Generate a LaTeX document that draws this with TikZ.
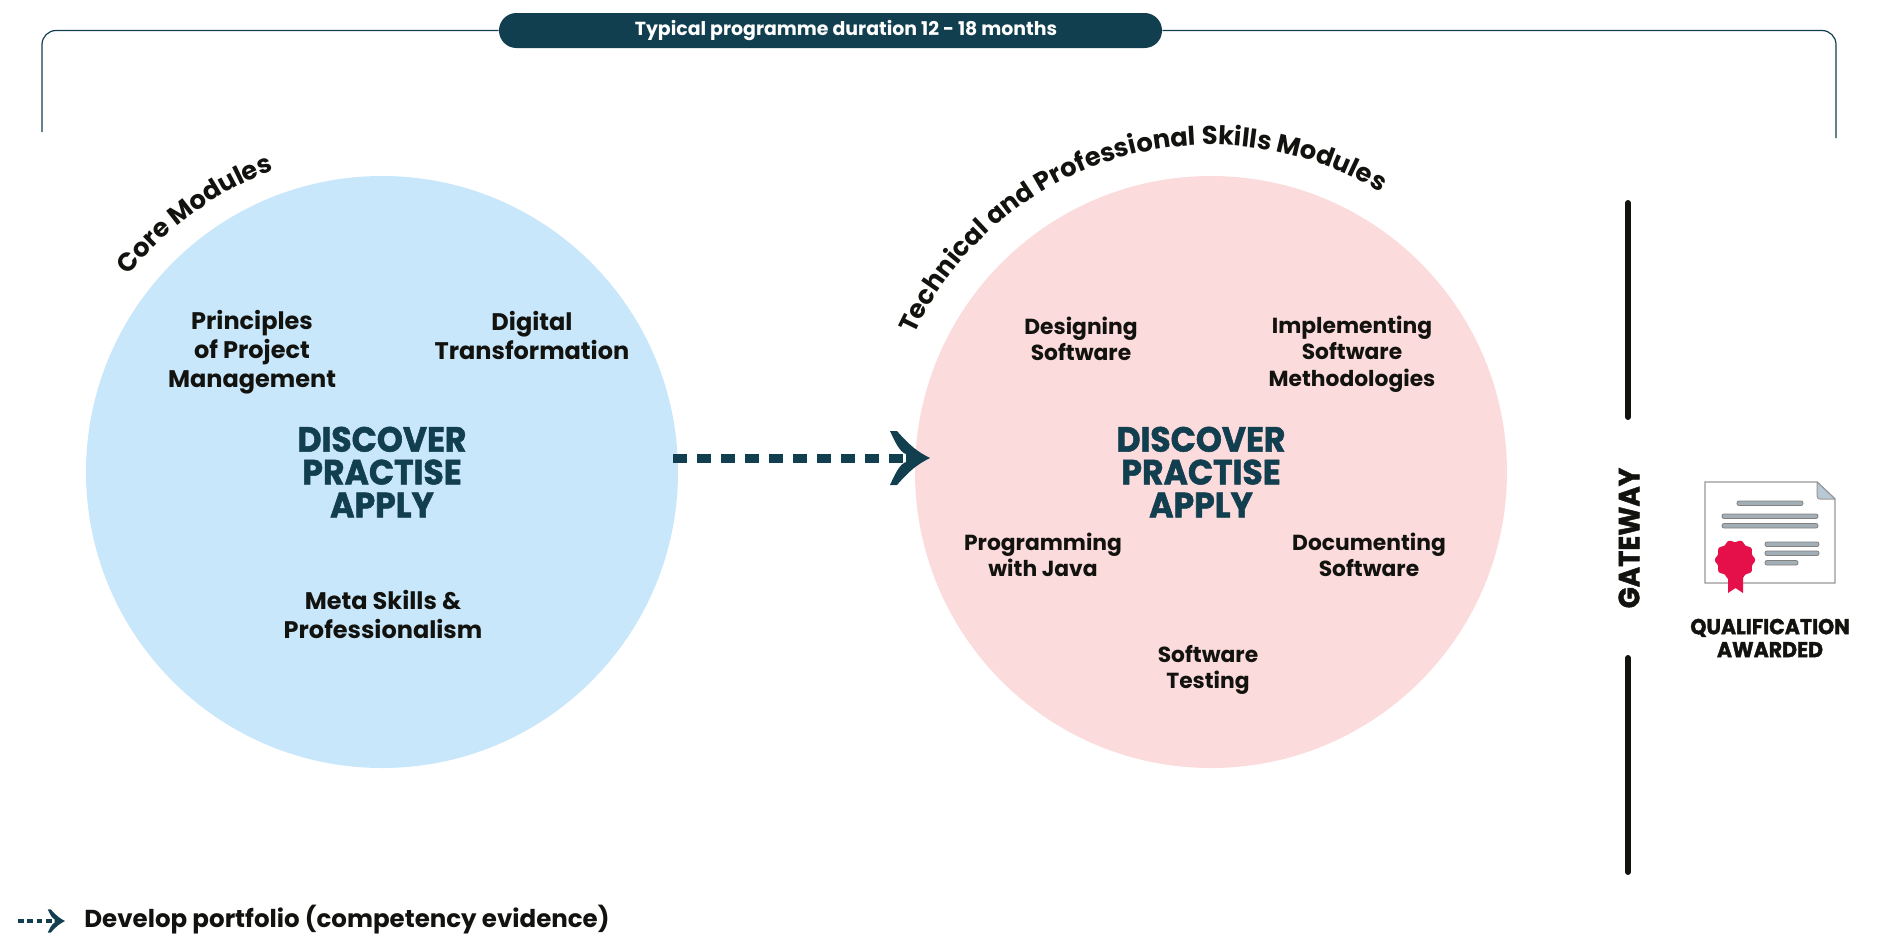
\documentclass[tikz,border=0pt]{standalone}
\usepackage{fontspec}
\setmainfont{Poppins}
\newfontfamily\mottofont{Poppins}[BoldFeatures={FakeBold=1.5,FakeStretch=0.945}]
\usetikzlibrary{positioning}
\usetikzlibrary{decorations.text}
\definecolor{tealdark}{HTML}{123F4F}
\definecolor{corefill}{HTML}{C9E7FA}
\definecolor{techfill}{HTML}{FBDBDB}
\definecolor{inkblack}{HTML}{12120F}
\definecolor{papergrey}{HTML}{9A9696}
\definecolor{bargrey}{HTML}{A3AFB7}
\definecolor{foldblue}{HTML}{B8C9D6}
\definecolor{sealred}{HTML}{E5104A}
\tikzset{modulecircle/.style={circle,draw=none,inner sep=0pt,minimum size=296pt}}
\tikzset{coremodule/.style={align=center,text=inkblack,inner sep=0pt,
font=\bfseries\fontsize{12}{14.5}\selectfont}}
\tikzset{techmodule/.style={align=center,text=inkblack,inner sep=0pt,
font=\bfseries\fontsize{10.9}{13.2}\selectfont}}
\tikzset{motto/.style={align=center,text=tealdark,inner sep=0pt,
font=\mottofont\bfseries\fontsize{17.5}{16.4}\selectfont}}
\tikzset{bracketline/.style={draw=tealdark,line width=0.6pt,rounded corners=7pt}}
\tikzset{gatewaybar/.style={draw=inkblack,line width=3pt,line cap=round}}
\tikzset{certbar/.style={draw=papergrey!85!black,fill=bargrey,line width=0.4pt,rounded corners=1pt}}
\tikzset{portfoliolink/.style={draw=tealdark,line width=4.5pt,dash pattern=on 7.2pt off 4.8pt}}
\tikzset{curvelabel/.style={decorate,decoration={text along path,text align=center,
text={|\bfseries\fontsize{12.9}{15}\selectfont\color{inkblack}|#1}}}}
\tikzset{barbhead/.pic={
\fill[tealdark] (-20pt,13.5pt) -- (-16.5pt,13.5pt) .. controls (-10pt,6pt) and (-6pt,3pt) .. (0,0)
.. controls (-6pt,-3pt) and (-10pt,-6pt) .. (-16.5pt,-13.5pt) -- (-20pt,-13.5pt)
.. controls (-17pt,-7pt) and (-15pt,-3pt) .. (-12pt,-2pt) -- (-12pt,2pt) .. controls (-15pt,3pt) and (-17pt,7pt) .. (-20pt,13.5pt) -- cycle;}}
\begin{document}
\begin{tikzpicture}[x=0.5pt,y=-0.5pt]
\useasboundingbox (0,0) rectangle (1881,933);

% circles
\node[modulecircle,fill=corefill] (core) at (382,472) {};
\node[modulecircle,fill=techfill] (tech) at (1211,472) {};

% duration bracket
\node[fill=tealdark,rounded corners=8.7pt,minimum width=331.5pt,minimum height=17.5pt,inner sep=0pt] (duration) at (830.5,30.5) {};
\node[text=white,inner sep=0pt,font=\bfseries\fontsize{9.45}{11}\selectfont] (durationtext) at (846,31) {Typical programme duration 12 - 18 months};
\coordinate (bracketL) at (42,132);
\coordinate (bracketR) at (1836,138);
\draw[bracketline] (bracketL) |- (duration.west);
\draw[bracketline] (bracketR) |- (duration.east);

% curved titles
\path[curvelabel={Core Modules}] ([shift={(171:160pt)}]core.center) arc[start angle=171,end angle=81,radius=160pt];
\path[curvelabel={Technical and Professional Skills Modules}] ([shift={(170.5:163.5pt)}]tech.center) arc[start angle=170.5,end angle=43.5,radius=163.5pt];

% core modules
\node[coremodule] (principles) at (252,352) {Principles\\of Project\\Management};
\node[coremodule] (digital) at (532,335) {Digital\\Transformation};
\node[coremodule] (meta) at (383,614) {Meta Skills \&\\Professionalism};
\node[motto] (coremotto) at (382,472) {DISCOVER\\PRACTISE\\APPLY};

% technical modules
\node[techmodule] (designing) at (1081,339) {Designing\\Software};
\node[techmodule] (implementing) at (1352,354) {Implementing\\Software\\Methodologies};
\node[motto] (techmotto) at (1201,472) {DISCOVER\\PRACTISE\\APPLY};
\node[techmodule] (java) at (1043,555) {Programming\\with Java};
\node[techmodule] (documenting) at (1369,555) {Documenting\\Software};
\node[techmodule] (testing) at (1208,670) {Software\\Testing};

% portfolio arrow
\coordinate (linkstart) at (673,458);
\coordinate (linkend) at (908,458);
\draw[portfoliolink] (linkstart) -- (linkend);
\pic at (930,458) {barbhead};

% gateway
\coordinate (gateA) at (1628,203);
\coordinate (gateB) at (1628,417);
\coordinate (gateC) at (1628,658);
\coordinate (gateD) at (1628,872);
\draw[gatewaybar] (gateA) -- (gateB);
\draw[gatewaybar] (gateC) -- (gateD);
\node[rotate=90,text=inkblack,inner sep=0pt,font=\mottofont\bfseries\fontsize{14.6}{16}\selectfont] (gateway) at (1629,538) {GATEWAY};

% certificate
\draw[draw=papergrey,fill=white,line width=0.7pt] (1705,482) -- (1817,482) -- (1835,499) -- (1835,583) -- (1705,583) -- cycle;
\draw[draw=papergrey,fill=foldblue,line width=0.5pt,line join=round] (1817,482) -- (1835,499) -- (1820,499) .. controls (1818,499) .. (1817,496) -- cycle;
\draw[certbar] (1737,501) rectangle (1803,505.5);
\draw[certbar] (1722,514) rectangle (1818,518.5);
\draw[certbar] (1722,523.5) rectangle (1818,528);
\draw[certbar] (1765,542) rectangle (1819,546.5);
\draw[certbar] (1765,551) rectangle (1819,555.5);
\draw[certbar] (1765,560.5) rectangle (1798,565);
\fill[sealred] (1728,575) -- (1743,575) -- (1743,593) -- (1735.5,588) -- (1728,593) -- cycle;
\fill[sealred] plot[smooth,domain=0:360,samples=121] ({1735+(19+1.1*cos(10*\x))*cos(\x)},{560+(19+1.1*cos(10*\x))*sin(\x)}) -- cycle;
\node[align=center,text=inkblack,inner sep=0pt,font=\mottofont\bfseries\fontsize{10.85}{11.5}\selectfont] (qualification) at (1770,638) {QUALIFICATION\\AWARDED};

% legend
\coordinate (legendstart) at (18,921);
\coordinate (legendend) at (56,921);
\draw[draw=tealdark,line width=1.8pt,dash pattern=on 2.8pt off 1.9pt] (legendstart) -- (legendend);
\pic[scale=0.43] at (65,921) {barbhead};
\node[anchor=west,text=inkblack,inner sep=0pt,font=\bfseries\fontsize{12.26}{15}\selectfont] (legend) at (84,920) {Develop portfolio (competency evidence)};
\end{tikzpicture}
\end{document}
